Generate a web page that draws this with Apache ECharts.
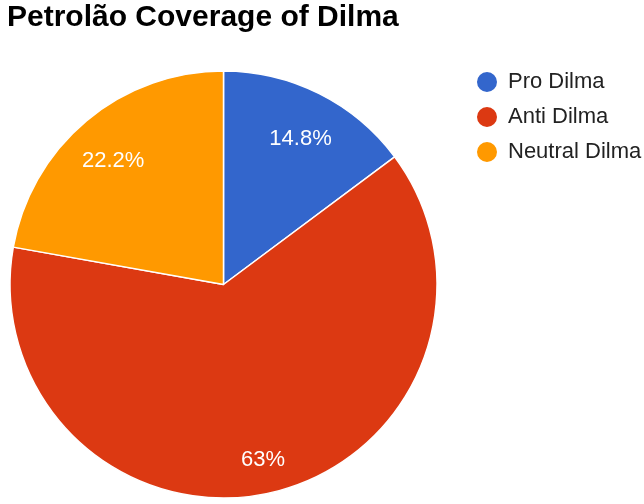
<!DOCTYPE html>
<html>
<head>
<meta charset="utf-8">
<script src="https://cdn.jsdelivr.net/npm/echarts@6/dist/echarts.min.js"></script>
<style>html,body{margin:0;padding:0;background:#fff;}#c{width:644px;height:504px;}</style>
</head>
<body>
<div id="c"></div>
<script>
const titleText = 'Petrolão Coverage of Dilma';
const categories = ['Pro Dilma', 'Anti Dilma', 'Neutral Dilma'];
const values = [14.8, 63, 22.2];
const colors = ['#3366cc', '#dc3912', '#ff9900'];

const font = 'Arial, "Liberation Sans", sans-serif';
const data = categories.map((n, i) => ({ name: n, value: values[i] }));
const chart = echarts.init(document.getElementById('c'), null, { renderer: 'canvas' });
chart.setOption({
  animation: false,
  color: colors,
  title: {
    text: titleText, left: 7, top: 3, padding: 0,
    textStyle: { fontFamily: font, fontWeight: 'bold', fontSize: 30, color: '#000' }
  },
  legend: {
    orient: 'vertical', left: 475, top: 70, padding: 0,
    icon: 'circle', itemWidth: 22, itemHeight: 22, itemGap: 11,
    data: categories,
    textStyle: { fontFamily: font, fontSize: 22, lineHeight: 22, color: '#222', padding: [0, 0, 0, 5] }
  },
  series: [
    {
      type: 'pie', center: [223.5, 284.5], radius: [0, 213.5],
      startAngle: 90, clockwise: true,
      itemStyle: { borderColor: '#fff', borderWidth: 1.5 },
      label: { show: false }, labelLine: { show: false },
      data: data
    },
    {
      type: 'pie', center: [223.5, 284.5], radius: [124, 213.5],
      startAngle: 90, clockwise: true, silent: true,
      itemStyle: { color: 'rgba(0,0,0,0)', borderWidth: 0 },
      label: {
        show: true, position: 'inside', color: '#fff',
        fontFamily: font, fontSize: 22,
        formatter: p => (Math.round(p.percent * 10) / 10) + '%'
      },
      labelLayout: { dy: 8 },
      labelLine: { show: false },
      data: data
    }
  ]
});
</script>
</body>
</html>
